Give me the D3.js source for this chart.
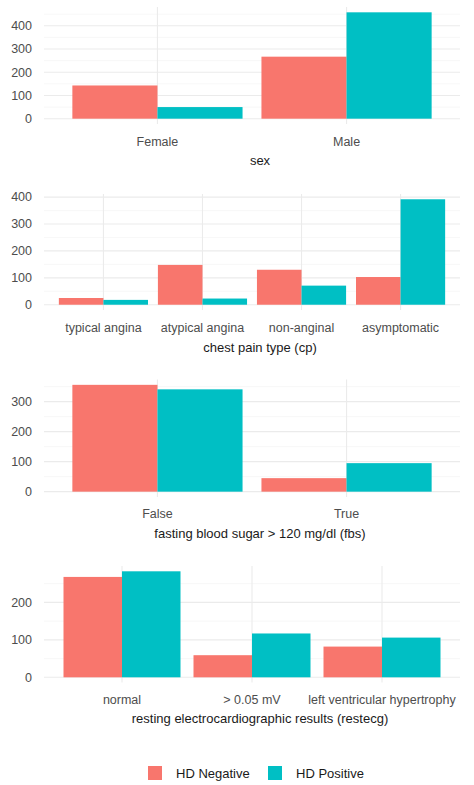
<!DOCTYPE html>
<html><head><meta charset="utf-8">
<script src="https://cdn.jsdelivr.net/npm/d3@7"></script>
<style>body{margin:0;background:#fff}svg{font-family:"Liberation Sans",Arial,sans-serif}</style>
</head><body><svg id="c" width="474" height="785"></svg>
<script>
const groups = ["HD Negative","HD Positive"];
const colors = ["#F8766D","#00BFC4"];
const sexCats = ["Female","Male"];
const sexNeg = [143, 267];
const sexPos = [50, 458];
const cpCats = ["typical angina","atypical angina","non-anginal","asymptomatic"];
const cpNeg = [25, 148, 130, 103];
const cpPos = [18, 23, 71, 392];
const fbsCats = ["False","True"];
const fbsNeg = [356, 45];
const fbsPos = [341, 95];
const ecgCats = ["normal","> 0.05 mV","left ventricular hypertrophy"];
const ecgNeg = [268, 59, 82];
const ecgPos = [283, 117, 106];
const yTicks = [0,100,200,300,400];

const svg = d3.select("#c");
const panels = [
 {cats:sexCats, neg:sexNeg, pos:sexPos, title:"sex", top:7, bottom:124, lab:146, tit:165},
 {cats:cpCats, neg:cpNeg, pos:cpPos, title:"chest pain type (cp)", top:194, bottom:310, lab:332, tit:352},
 {cats:fbsCats, neg:fbsNeg, pos:fbsPos, title:"fasting blood sugar > 120 mg/dl (fbs)", top:379.5, bottom:497, lab:518, tit:538},
 {cats:ecgCats, neg:ecgNeg, pos:ecgPos, title:"resting electrocardiographic results (restecg)", top:566, bottom:682.6, lab:704, tit:723}
];
const L=44, R=460;
panels.forEach(p=>{
  const m = d3.max(p.neg.concat(p.pos));
  const y = d3.scaleLinear().domain([-0.05*m, 1.05*m]).range([p.bottom, p.top]);
  const n = p.cats.length;
  const x = d3.scaleLinear().domain([0.4, n+0.6]).range([L, R]);
  const g = svg.append("g");
  const ticks = yTicks.filter(t=>t<=1.05*m);
  const minors = d3.range(50, 1.05*m, 100);
  g.selectAll(".mi").data(minors).enter().append("line")
    .attr("x1",L).attr("x2",R).attr("y1",d=>y(d)).attr("y2",d=>y(d))
    .attr("stroke","#f2f2f2").attr("stroke-width",0.6);
  g.selectAll(".ma").data(ticks).enter().append("line")
    .attr("x1",L).attr("x2",R).attr("y1",d=>y(d)).attr("y2",d=>y(d))
    .attr("stroke","#ebebeb").attr("stroke-width",1.1);
  g.selectAll(".vg").data(p.cats).enter().append("line")
    .attr("x1",(d,i)=>x(i+1)).attr("x2",(d,i)=>x(i+1)).attr("y1",p.top).attr("y2",p.bottom)
    .attr("stroke","#ebebeb").attr("stroke-width",1.1);
  [p.neg,p.pos].forEach((vals,k)=>{
    g.selectAll(".b"+k).data(vals).enter().append("rect")
      .attr("x",(d,i)=>x(i+1-0.45+k*0.45)).attr("width",x(1.45)-x(1))
      .attr("y",d=>y(d)).attr("height",d=>y(0)-y(d)).attr("fill",colors[k]);
  });
  g.selectAll(".yt").data(ticks).enter().append("text")
    .attr("x",32).attr("y",d=>y(d)).attr("dy","0.35em").attr("text-anchor","end")
    .attr("font-size",12.5).attr("fill","#4d4d4d").text(d=>d);
  g.selectAll(".xt").data(p.cats).enter().append("text")
    .attr("x",(d,i)=>x(i+1)).attr("y",p.lab).attr("text-anchor","middle")
    .attr("font-size",12.5).attr("fill","#4d4d4d").text(d=>d);
  g.append("text").attr("x",(L+R)/2+8).attr("y",p.tit).attr("text-anchor","middle")
    .attr("font-size",13).attr("fill","#1a1a1a").text(p.title);
});
const lg = svg.append("g");
const lx = [148, 268];
groups.forEach((gname,k)=>{
  lg.append("rect").attr("x",lx[k]).attr("y",766).attr("width",14).attr("height",14).attr("fill",colors[k]);
  lg.append("text").attr("x",lx[k]+28).attr("y",773).attr("dy","0.35em").attr("font-size",13).attr("fill","#1a1a1a").text(gname);
});
</script></body></html>
